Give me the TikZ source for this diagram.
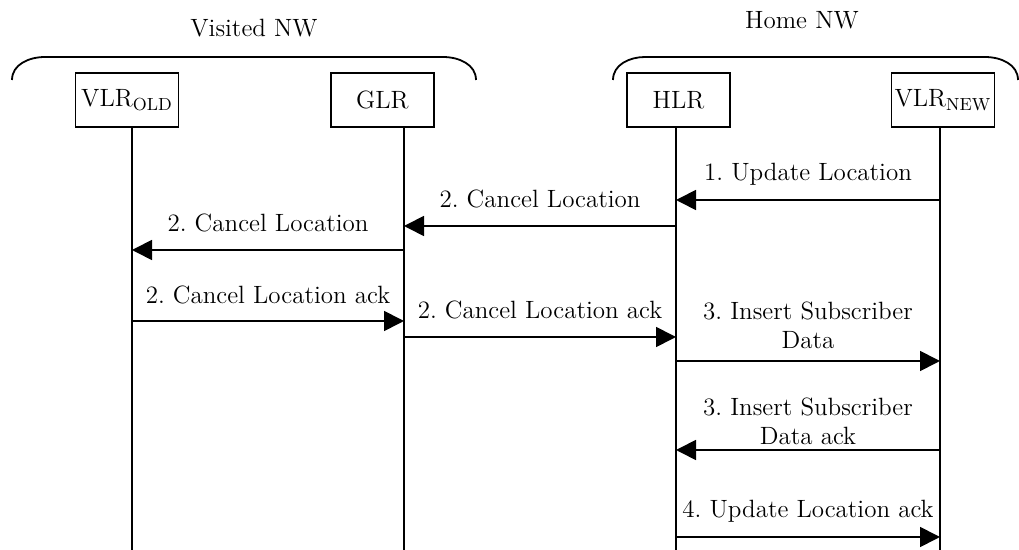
\documentclass[tikz,border=0pt]{standalone}
\usetikzlibrary{arrows.meta,calc}
\frenchspacing

\begin{document}
\begin{tikzpicture} [x=0.5pt, y=0.5pt]
    \tikzstyle{every node}=[align = center, font=\fontsize{12.5}{14.5}\selectfont]
    \tikzstyle{entity} = [draw, line width=0.8pt, minimum width=51.5pt, minimum height=27pt, inner sep=0pt]
    \tikzstyle{life} = [line width=0.8pt]
    \tikzstyle{msg} = [line width=0.85pt, -{Triangle[length=10pt, width=10pt]}]
    \tikzstyle{bracket} = [line width=0.9pt]
    \useasboundingbox (0,0) rectangle (1019,-550);
    % networks
    \node (visited) at (254,-28) {Visited NW};
    \node (home) at (802,-20) {Home NW};
    \draw[bracket] (12,-80) to[out=90, in=180] (45,-57) -- (443,-57) to[out=0, in=90] (476,-80);
    \draw[bracket] (613,-80) to[out=90, in=180] (645,-57) -- (985,-57) to[out=0, in=90] (1018,-80);
    % entities
    \node[entity] (vold) at (127,-100) {VLR\textsubscript{OLD}};
    \node[entity] (glr) at (382.5,-100) {GLR};
    \node[entity] (hlr) at (678.5,-100) {HLR};
    \node[entity] (vnew) at (943,-100) {VLR\textsubscript{NEW}};
    % lifelines
    \coordinate (bvold) at (132,-550);
    \coordinate (bglr) at (404,-550);
    \coordinate (bhlr) at (676,-550);
    \coordinate (bvnew) at (940,-550);
    \foreach \n in {vold, glr, hlr, vnew}
        \draw[life] (\n.south -| b\n) -- (b\n);
    % messages
    \foreach \a/\b/\y/\t/\l in {
        bvnew/bhlr/200/174/{1. Update Location},
        bhlr/bglr/226/199/{2. Cancel Location},
        bglr/bvold/250/223/{2. Cancel Location},
        bvold/bglr/321/295/{2. Cancel Location ack},
        bglr/bhlr/337/310/{2. Cancel Location ack},
        bhlr/bvnew/361/325/{3. Insert Subscriber\\Data},
        bvnew/bhlr/450/421/{3. Insert Subscriber\\Data ack},
        bhlr/bvnew/537/511/{4. Update Location ack}}
    {
        \draw[msg] (\a |- 0,-\y) -- (\b |- 0,-\y);
        \node (m\y) at ($(\a |- 0,-\t)!0.5!(\b |- 0,-\t)$) {\l};
    }
\end{tikzpicture}
\end{document}
